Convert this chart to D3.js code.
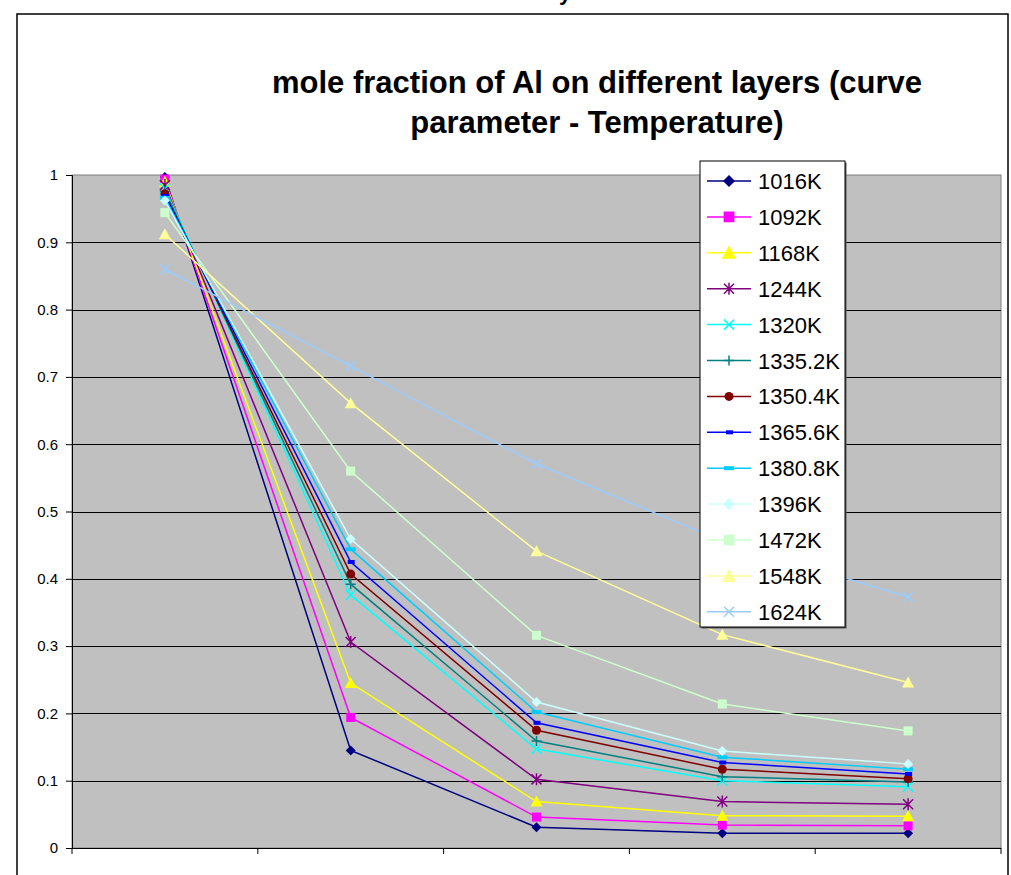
<!DOCTYPE html>
<html>
<head>
<meta charset="utf-8">
<script src="https://cdn.jsdelivr.net/npm/d3@7"></script>
<style>
  body { margin: 0; background: #fff; }
  text { font-family: "Liberation Sans", Arial, sans-serif; }
</style>
</head>
<body>
<div id="svg-container"></div>
<script>
// layers (x categories) - no labels shown on the axis
const layers = ["1", "2", "3", "4", "5"]
// y tick values
const yTicks = [0, 0.1, 0.2, 0.3, 0.4, 0.5, 0.6, 0.7, 0.8, 0.9, 1]

// series names (curve parameter = temperature)
const temps = ["1016K", "1092K", "1168K", "1244K", "1320K", "1335.2K", "1350.4K",
  "1365.6K", "1380.8K", "1396K", "1472K", "1548K", "1624K"]

// mole fraction of Al per layer, one array per temperature
const t1016 = [0.997, 0.145, 0.031, 0.022, 0.022]
const t1092 = [0.994, 0.194, 0.046, 0.034, 0.033]
const t1168 = [0.990, 0.245, 0.069, 0.048, 0.047]
const t1244 = [0.985, 0.306, 0.102, 0.069, 0.065]
const t1320 = [0.980, 0.376, 0.147, 0.100, 0.091]
const t1335 = [0.976, 0.392, 0.159, 0.106, 0.098]
const t1350 = [0.972, 0.407, 0.175, 0.117, 0.103]
const t1365 = [0.969, 0.425, 0.186, 0.127, 0.110]
const t1380 = [0.966, 0.444, 0.202, 0.135, 0.117]
const t1396 = [0.962, 0.459, 0.217, 0.144, 0.125]
const t1472 = [0.944, 0.560, 0.316, 0.214, 0.174]
const t1548 = [0.912, 0.661, 0.441, 0.317, 0.246]
const t1624 = [0.860, 0.716, 0.571, 0.456, 0.373]

const allValues = [t1016, t1092, t1168, t1244, t1320, t1335, t1350, t1365, t1380, t1396, t1472, t1548, t1624]

// excel style colours and markers
const colors = ["#000080", "#ff00ff", "#ffff00", "#800080", "#00ffff", "#008080", "#800000",
  "#0000ff", "#00ccff", "#ccffff", "#ccffcc", "#ffff99", "#99ccff"]
const markers = ["diamond", "square", "triangle", "star", "x", "plus", "circle",
  "shortdash", "longdash", "diamond", "square", "triangle", "x"]

const series = temps.map((t, i) => ({ name: t, values: allValues[i], color: colors[i], marker: markers[i] }))

const width = 1011, height = 875
const svg = d3.select('#svg-container').append('svg')
  .attr('width', width).attr('height', height)

// outer chart frame (runs past the bottom edge)
svg.append('rect').attr('x', 17).attr('y', 14).attr('width', 991).attr('height', 900)
  .attr('fill', '#fff').attr('stroke', '#000').attr('stroke-width', 1.5)

// clipped bit of text above the frame
svg.append('text').attr('x', 565).attr('y', 0).attr('text-anchor', 'middle')
  .attr('font-size', 22).attr('font-weight', 'bold').text('y')

// title
const title = svg.append('text').attr('text-anchor', 'middle')
  .attr('font-size', 31).attr('font-weight', 'bold')
title.append('tspan').attr('x', 597).attr('y', 93).text('mole fraction of Al on different layers (curve')
title.append('tspan').attr('x', 597).attr('y', 133).text('parameter - Temperature)')

const plot = { left: 72, right: 1001, top: 175, bottom: 848 }

const xScale = d3.scaleBand().domain(layers).range([plot.left, plot.right]).paddingInner(0).paddingOuter(0)
const yScale = d3.scaleLinear().domain([0, 1]).range([plot.bottom, plot.top])
const xPos = i => xScale(layers[i]) + xScale.bandwidth() / 2

// plot area
svg.append('rect').attr('x', plot.left).attr('y', plot.top)
  .attr('width', plot.right - plot.left).attr('height', plot.bottom - plot.top)
  .attr('fill', '#c0c0c0').attr('stroke', '#808080').attr('stroke-width', 1)

// gridlines
svg.append('g').selectAll('line').data(yTicks.filter(d => d > 0 && d < 1)).enter().append('line')
  .attr('x1', plot.left).attr('x2', plot.right)
  .attr('y1', d => Math.round(yScale(d)) + 0.5).attr('y2', d => Math.round(yScale(d)) + 0.5)
  .attr('stroke', '#000').attr('stroke-width', 1)

// y axis
const yAxis = svg.append('g').attr('transform', `translate(${plot.left},0)`)
  .call(d3.axisLeft(yScale).tickValues(yTicks).tickSize(6).tickPadding(8)
    .tickFormat(d => d3.format('~g')(d)))
yAxis.selectAll('text').attr('font-size', 15).attr('fill', '#000')
  .style('font-family', '"Liberation Sans", Arial, sans-serif')
yAxis.selectAll('line,path').attr('stroke', '#000')

// x axis: ticks at band edges, no labels
const xEdges = layers.map(l => xScale(l)).concat([plot.right])
const xAxis = svg.append('g')
xAxis.append('line').attr('x1', plot.left).attr('x2', plot.right)
  .attr('y1', plot.bottom + 0.5).attr('y2', plot.bottom + 0.5).attr('stroke', '#000')
xAxis.selectAll('.tick').data(xEdges).enter().append('line')
  .attr('x1', d => d).attr('x2', d => d)
  .attr('y1', plot.bottom).attr('y2', plot.bottom + 6).attr('stroke', '#000')

// marker drawing
function drawMarker(g, type, color, s) {
  const k = s || 1
  if (type === 'diamond') {
    g.append('path').attr('d', `M0,${-5 * k}L${5 * k},0L0,${5 * k}L${-5 * k},0Z`).attr('fill', color)
  } else if (type === 'square') {
    g.append('rect').attr('x', -4.5 * k).attr('y', -4.5 * k).attr('width', 9 * k).attr('height', 9 * k).attr('fill', color)
  } else if (type === 'triangle') {
    g.append('path').attr('d', `M0,${-6 * k}L${6 * k},${5 * k}L${-6 * k},${5 * k}Z`).attr('fill', color)
  } else if (type === 'x') {
    g.append('path').attr('d', `M-5,-5L5,5M-5,5L5,-5`).attr('stroke', color).attr('stroke-width', 1.5)
  } else if (type === 'star') {
    g.append('path').attr('d', `M-5,-5L5,5M-5,5L5,-5M0,-6L0,6`).attr('stroke', color).attr('stroke-width', 1.5)
  } else if (type === 'plus') {
    g.append('path').attr('d', `M-5,0L5,0M0,-5L0,5`).attr('stroke', color).attr('stroke-width', 1.5)
  } else if (type === 'circle') {
    g.append('circle').attr('r', 4.5).attr('fill', color)
  } else if (type === 'shortdash') {
    g.append('rect').attr('x', -3).attr('y', -2).attr('width', 7).attr('height', 4).attr('fill', color)
  } else if (type === 'longdash') {
    g.append('rect').attr('x', -5).attr('y', -2).attr('width', 10).attr('height', 4).attr('fill', color)
  }
}

const line = d3.line().x((d, i) => xPos(i)).y(d => yScale(d))

// series lines + markers
const sg = svg.append('g').selectAll('g').data(series).enter().append('g')
sg.append('path').attr('d', d => line(d.values)).attr('fill', 'none')
  .attr('stroke', d => d.color).attr('stroke-width', 1.5)
sg.each(function (d) {
  const g = d3.select(this)
  d.values.forEach((v, i) => {
    const m = g.append('g').attr('transform', `translate(${xPos(i)},${yScale(v)})`)
    drawMarker(m, d.marker, d.color)
  })
})

// legend
const legend = svg.append('g').attr('transform', 'translate(700,161)')
legend.append('rect').attr('x', 1.5).attr('y', 1.5).attr('width', 145).attr('height', 466).attr('fill', '#555')
legend.append('rect').attr('width', 145).attr('height', 466).attr('fill', '#fff')
  .attr('stroke', '#000').attr('stroke-width', 1)
const li = legend.selectAll('.item').data(series).enter().append('g')
  .attr('transform', (d, i) => `translate(0,${20 + i * 35.9})`)
li.append('line').attr('x1', 7).attr('x2', 51).attr('stroke', d => d.color).attr('stroke-width', 1.5)
li.each(function (d) {
  const m = d3.select(this).append('g').attr('transform', 'translate(29,0)')
  drawMarker(m, d.marker, d.color, 1.2)
})
li.append('text').attr('x', 58).attr('y', 8).attr('font-size', 22).text(d => d.name)
</script>
</body>
</html>
